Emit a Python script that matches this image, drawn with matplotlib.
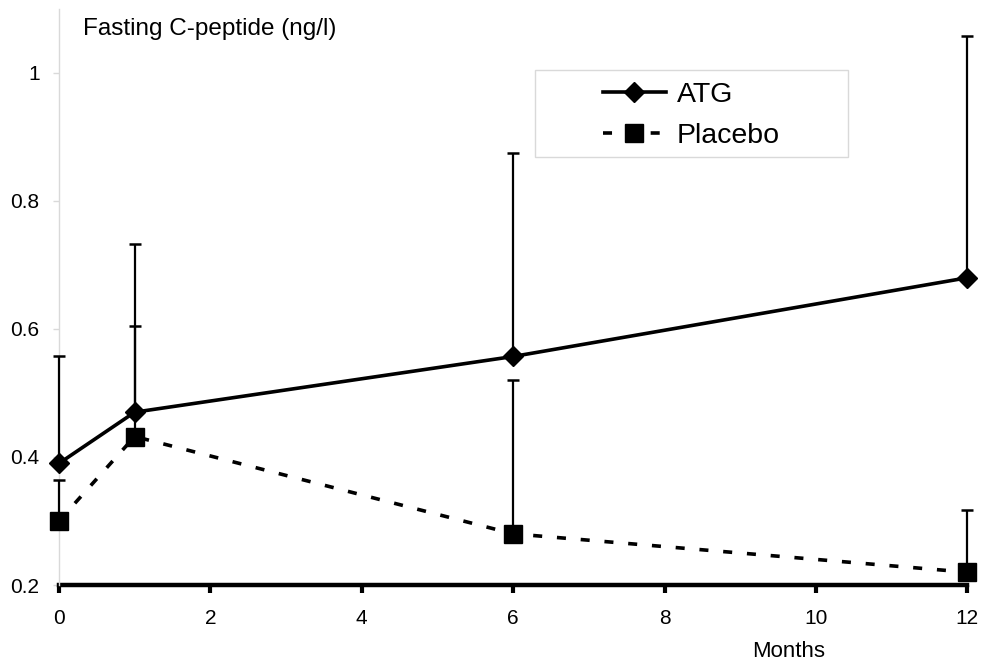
import matplotlib
matplotlib.use("Agg")
import matplotlib.pyplot as plt
import matplotlib.patches as mpatches

plt.rcParams['font.family'] = ['Liberation Sans', 'DejaVu Sans']

months = [0, 1, 6, 12]
atg = [0.39, 0.47, 0.557, 0.68]
atg_err_up = [0.557, 0.733, 0.875, 1.058]
placebo = [0.30, 0.432, 0.28, 0.22]
placebo_err_up = [0.364, 0.605, 0.52, 0.317]

atg_err = [[0] * len(atg), [u - v for u, v in zip(atg_err_up, atg)]]
pl_err = [[0] * len(placebo), [u - v for u, v in zip(placebo_err_up, placebo)]]

fig = plt.figure(figsize=(9.83, 6.66), dpi=100)
ax = fig.add_axes([0.060, 0.1216, 0.924, 0.865])

# error bars (upper only)
ax.errorbar(months, atg, yerr=atg_err, fmt='none', ecolor='black', elinewidth=1.6,
            capsize=4.5, capthick=1.8, clip_on=False, zorder=3)
ax.errorbar(months, placebo, yerr=pl_err, fmt='none', ecolor='black', elinewidth=1.6,
            capsize=4.5, capthick=1.8, clip_on=False, zorder=3)

ax.plot(months, atg, color='black', lw=2.6, marker='D', ms=10.5, label='ATG',
        clip_on=False, zorder=4)
ax.plot(months, placebo, color='black', lw=2.6, linestyle=(0, (2.5, 4.1)), marker='s',
        ms=13, label='Placebo', clip_on=False, zorder=4)

ax.set_xlim(0, 12)
ax.set_ylim(0.2, 1.1)
ax.set_xticks([0, 2, 4, 6, 8, 10, 12])
ax.set_yticks([0.2, 0.4, 0.6, 0.8, 1.0])
ax.set_yticklabels(['0.2', '0.4', '0.6', '0.8', '1'])

for s in ['top', 'right']:
    ax.spines[s].set_visible(False)
ax.spines['left'].set_color('#d9d9d9')
ax.spines['left'].set_linewidth(1.0)
ax.spines['bottom'].set_linewidth(3.2)
ax.spines['bottom'].set_zorder(2)

ax.tick_params(axis='y', direction='out', length=4, width=1, color='#d9d9d9',
               labelsize=15, pad=10)
ax.tick_params(axis='x', direction='out', length=6, width=3, color='black',
               labelsize=15, pad=11)

ax.text(0.026, 0.965, 'Fasting C-peptide (ng/l)', transform=ax.transAxes,
        fontsize=17.5, va='center', ha='left')
ax.text(0.803, -0.115, 'Months', transform=ax.transAxes, fontsize=16,
        va='center', ha='center')

# legend box drawn by hand, entries centred in it
box = mpatches.Rectangle((0.524, 0.743), 0.345, 0.151, transform=ax.transAxes,
                         facecolor='white', edgecolor='#d9d9d9', lw=1.0, zorder=5)
ax.add_patch(box)
leg = ax.legend(loc='center', bbox_to_anchor=(0.6965, 0.815), fontsize=20.5,
                frameon=False, handlelength=2.2, handletextpad=0.4,
                labelspacing=0.55, borderpad=0, borderaxespad=0)
leg.set_zorder(6)

fig.savefig('out.png', dpi=100)
